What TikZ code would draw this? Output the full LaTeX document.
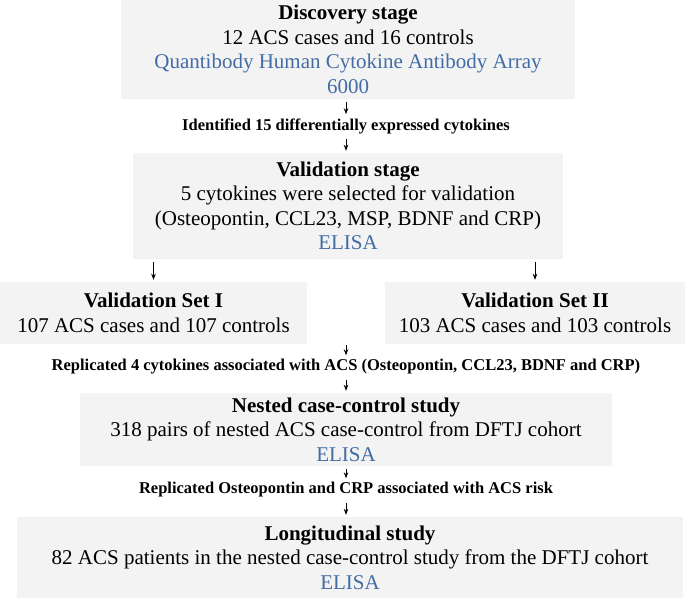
\documentclass[tikz,border=0pt]{standalone}
\usepackage{fontspec}
\setmainfont{Liberation Serif}
\usepackage{xcolor}
\usetikzlibrary{positioning,arrows.meta,calc}
\definecolor{boxgray}{RGB}{243,243,243}
\definecolor{methodblue}{RGB}{66,108,164}

\begin{document}
\begin{tikzpicture}[x=1pt,y=-1pt,
    stage/.style={fill=boxgray, align=center, inner sep=0pt, font=\fontsize{21}{24.5}\selectfont},
    finding/.style={align=center, inner sep=2pt, font=\fontsize{16.5}{18}\selectfont\bfseries},
    flow/.style={-{Stealth[length=6pt,width=4.5pt]}, line width=0.8pt, shorten <=3pt, shorten >=2pt}]
    \useasboundingbox (0,0) rectangle (685,598);

    % Discovery stage
    \node[stage, minimum width=454pt, minimum height=99pt] (disc) at (348,49.5)
        {\textbf{Discovery stage}\\12 ACS cases and 16 controls\\
         \textcolor{methodblue}{Quantibody Human Cytokine Antibody Array}\\
         \textcolor{methodblue}{6000}};
    \node[finding] (found1) at (346,126) {Identified 15 differentially expressed cytokines};

    % Validation stage and its two sets
    \node[stage, minimum width=430pt, minimum height=106pt] (valid) at (348,206)
        {\textbf{Validation stage}\\5 cytokines were selected for validation\\
         (Osteopontin, CCL23, MSP, BDNF and CRP)\\
         \textcolor{methodblue}{ELISA}};
    \node[stage, minimum width=307pt, minimum height=62pt] (setone) at (153.5,313)
        {\textbf{Validation Set I}\\107 ACS cases and 107 controls};
    \node[stage, minimum width=300pt, minimum height=62pt] (settwo) at (535,313)
        {\textbf{Validation Set II}\\103 ACS cases and 103 controls};
    \node[finding] (found2) at (346,367)
        {Replicated 4 cytokines associated with ACS (Osteopontin, CCL23, BDNF and CRP)};

    % Nested case-control study
    \node[stage, minimum width=532pt, minimum height=73pt] (nested) at (346,429.5)
        {\textbf{Nested case-control study}\\318 pairs of nested ACS case-control from DFTJ cohort\\
         \textcolor{methodblue}{ELISA}};
    \node[finding] (found3) at (346,490) {Replicated Osteopontin and CRP associated with ACS risk};

    % Longitudinal study
    \node[stage, minimum width=666pt, minimum height=81pt] (longit) at (350,557.5)
        {\textbf{Longitudinal study}\\82 ACS patients in the nested case-control study from the DFTJ cohort\\
         \textcolor{methodblue}{ELISA}};

    % Arrows
    \coordinate (join) at (setone.south -| found2.north);
    \draw[flow] (disc.south -| found1.north) -- (found1.north);
    \draw[flow] (found1.south) -- (found1.south |- valid.north);
    \draw[flow] (valid.south -| setone.north) -- (setone.north);
    \draw[flow] (valid.south -| settwo.north) -- (settwo.north);
    \draw[flow, shorten <=1pt] (join) -- (found2.north);
    \draw[flow] (found2.south) -- (found2.south |- nested.north);
    \draw[flow] (nested.south -| found3.north) -- (found3.north);
    \draw[flow] (found3.south) -- (found3.south |- longit.north);
\end{tikzpicture}
\end{document}
